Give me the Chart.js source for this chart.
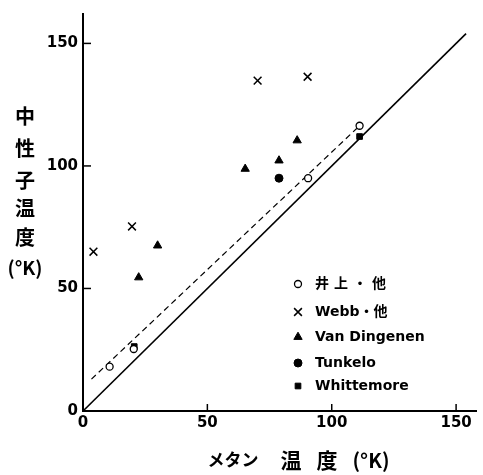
<!DOCTYPE html>
<html>
<head>
<meta charset="utf-8">
<script src="https://cdn.jsdelivr.net/npm/chart.js@4.4.1/dist/chart.umd.min.js"></script>
<style>
  html, body { margin: 0; padding: 0; background: #fff; }
  #wrap { width: 483px; height: 475px; }
</style>
</head>
<body>
<div id="wrap"><canvas id="chart" width="483" height="475"></canvas></div>
<script>
// values (methane temp vs neutron temp, K)
const inoueX = [10.7, 20.4, 90.5, 111.2];
const inoueY = [18.1, 25.3, 95.0, 116.4];
const webbX = [4.2, 19.7, 70.2, 90.3];
const webbY = [65.0, 75.3, 134.8, 136.4];
const vanX = [22.4, 30.0, 65.2, 78.8, 86.1];
const vanY = [54.5, 67.5, 98.8, 102.2, 110.4];
const tunkeloX = [78.8];
const tunkeloY = [95.0];
const whitX = [20.6, 111.2];
const whitY = [26.3, 112.0];
const fitX = [3.4, 111.2];
const fitY = [13.0, 116.4];
const diagX = [0, 154];
const diagY = [0, 154];

const xTicks = [0, 50, 100, 150];
const yTicks = [0, 50, 100, 150];
const labels = ['井上・他', 'Webb・他', 'Van Dingenen', 'Tunkelo', 'Whittemore'];
const yTitle = ['中', '性', '子', '温', '度', '(°K)'];
const xTitle = ['メタン', '温', '度', '(°K)'];

function pts(xs, ys) {
    return xs.map((x, i) => ({ x: x, y: ys[i] }));
}

const latin = '"DejaVu Sans", sans-serif';
const cjk = '"Noto Sans CJK JP", sans-serif';

// small ticks pointing into the plot
const inwardTicks = {
    id: 'inwardTicks',
    afterDraw(chart) {
        const { ctx, chartArea, scales } = chart;
        ctx.save();
        ctx.strokeStyle = '#000';
        ctx.lineWidth = 1.5;
        scales.x.ticks.forEach(t => {
            if (t.value === 0) return;
            const px = scales.x.getPixelForValue(t.value);
            ctx.beginPath();
            ctx.moveTo(px, chartArea.bottom);
            ctx.lineTo(px, chartArea.bottom - 7);
            ctx.stroke();
        });
        scales.y.ticks.forEach(t => {
            if (t.value === 0) return;
            const py = scales.y.getPixelForValue(t.value);
            ctx.beginPath();
            ctx.moveTo(chartArea.left, py);
            ctx.lineTo(chartArea.left + 8, py);
            ctx.stroke();
        });
        ctx.restore();
    }
};

// vertical y title and spaced x title
const titles = {
    id: 'titles',
    afterDraw(chart) {
        const ctx = chart.ctx;
        ctx.save();
        ctx.fillStyle = '#000';
        ctx.textAlign = 'center';
        ctx.textBaseline = 'middle';
        const yPos = [116, 148, 180, 208, 237, 268];
        yTitle.forEach((ch, i) => {
            ctx.font = (i === 5 ? 'bold 19px ' : 'bold 20px ') + cjk;
            ctx.fillText(ch, 25, yPos[i]);
        });
        const xPos = [233, 291, 327, 371];
        const xSize = [17, 21, 21, 20];
        xTitle.forEach((s, i) => {
            ctx.font = 'bold ' + xSize[i] + 'px ' + cjk;
            ctx.fillText(s, xPos[i], 460);
        });
        ctx.restore();
    }
};

// legend sitting inside the plot, lower right
const innerLegend = {
    id: 'innerLegend',
    afterDraw(chart) {
        const ctx = chart.ctx;
        const rows = [284, 312, 337, 363, 386];
        ctx.save();
        chart.data.datasets.slice(0, 5).forEach((ds, i) => {
            ctx.fillStyle = ds.backgroundColor;
            ctx.strokeStyle = ds.borderColor;
            ctx.lineWidth = ds.borderWidth;
            Chart.helpers.drawPoint(ctx, {
                pointStyle: ds.pointStyle,
                radius: ds.pointRadius,
                borderWidth: ds.borderWidth,
                rotation: 0
            }, 298, rows[i]);
            ctx.fillStyle = '#000';
            ctx.textAlign = 'left';
            ctx.textBaseline = 'middle';
            ctx.font = 'bold 14px ' + (i < 2 ? '"DejaVu Sans", "Noto Sans CJK JP", sans-serif' : latin);
            if ('letterSpacing' in ctx) ctx.letterSpacing = i === 0 ? '5px' : '0px';
            ctx.fillText(ds.label, 315, rows[i]);
        });
        ctx.restore();
    }
};

new Chart(document.getElementById('chart'), {
    type: 'scatter',
    data: {
        datasets: [
            { label: labels[0], data: pts(inoueX, inoueY), pointStyle: 'circle', pointRadius: 3.5,
              backgroundColor: '#fff', borderColor: '#000', borderWidth: 1.3 },
            { label: labels[1], data: pts(webbX, webbY), pointStyle: 'crossRot', pointRadius: 5.5,
              backgroundColor: '#000', borderColor: '#000', borderWidth: 1.5 },
            { label: labels[2], data: pts(vanX, vanY), pointStyle: 'triangle', pointRadius: 4.8,
              backgroundColor: '#000', borderColor: '#000', borderWidth: 1 },
            { label: labels[3], data: pts(tunkeloX, tunkeloY), pointStyle: 'circle', pointRadius: 4,
              backgroundColor: '#000', borderColor: '#000', borderWidth: 1 },
            { label: labels[4], data: pts(whitX, whitY), pointStyle: 'rect', pointRadius: 4,
              backgroundColor: '#000', borderColor: '#000', borderWidth: 1 },
            { label: 'fit', data: pts(fitX, fitY), showLine: true, pointRadius: 0,
              borderColor: '#000', borderWidth: 1.2, borderDash: [6, 4] },
            { label: 'y=x', data: pts(diagX, diagY), showLine: true, pointRadius: 0,
              borderColor: '#000', borderWidth: 1.6 }
        ]
    },
    options: {
        responsive: false,
        animation: false,
        layout: { padding: { top: 6, right: 2, left: 0, bottom: 0 } },
        plugins: {
            legend: { display: false },
            tooltip: { enabled: false }
        },
        scales: {
            x: {
                type: 'linear',
                min: 0,
                max: 158,
                afterBuildTicks: s => { s.ticks = xTicks.map(v => ({ value: v })); },
                afterFit: s => { s.height = 64; },
                grid: { display: false, drawTicks: false },
                border: { display: true, color: '#000', width: 2 },
                ticks: { color: '#000', padding: 3, maxRotation: 0,
                         font: { family: latin, size: 15, weight: 'bold' } }
            },
            y: {
                type: 'linear',
                min: 0,
                max: 162,
                afterBuildTicks: s => { s.ticks = yTicks.map(v => ({ value: v })); },
                afterFit: s => { s.width = 83; },
                grid: { display: false, drawTicks: false },
                border: { display: true, color: '#000', width: 2 },
                ticks: { color: '#000', padding: 5,
                         font: { family: latin, size: 15, weight: 'bold' } }
            }
        }
    },
    plugins: [inwardTicks, titles, innerLegend]
});
</script>
</body>
</html>
